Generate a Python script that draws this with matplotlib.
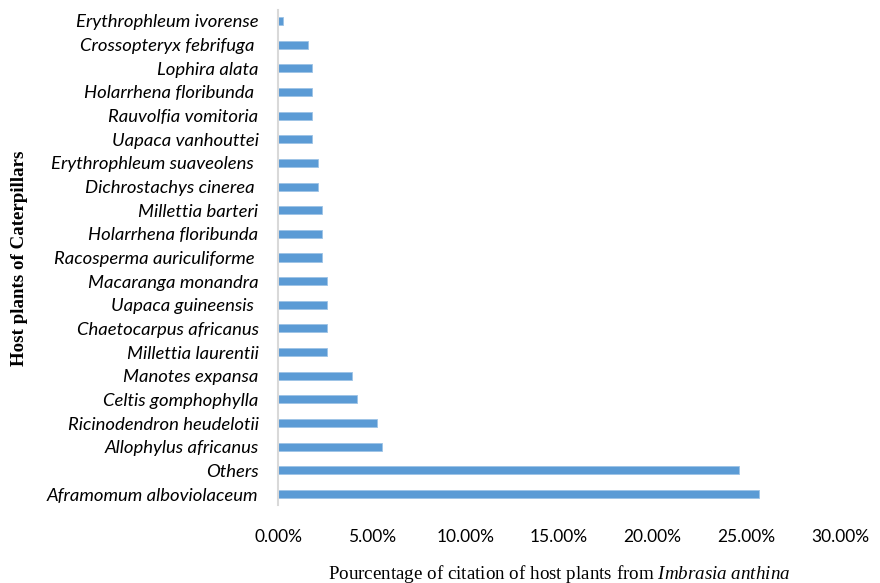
import matplotlib
matplotlib.use("Agg")
import matplotlib.pyplot as plt
from matplotlib.ticker import FuncFormatter

plt.rcParams['mathtext.fontset'] = 'custom'
plt.rcParams['mathtext.rm'] = 'Liberation Serif'
plt.rcParams['mathtext.it'] = 'Liberation Serif:italic'

# top to bottom as shown
plants = [
    "Erythrophleum ivorense", "Crossopteryx febrifuga ", "Lophira alata",
    "Holarrhena floribunda ", "Rauvolfia vomitoria", "Uapaca vanhouttei",
    "Erythrophleum suaveolens ", "Dichrostachys cinerea ", "Millettia barteri",
    "Holarrhena floribunda", "Racosperma auriculiforme ", "Macaranga monandra",
    "Uapaca guineensis ", "Chaetocarpus africanus", "Millettia laurentii",
    "Manotes expansa", "Celtis gomphophylla", "Ricinodendron heudelotii",
    "Allophylus africanus", "Others", "Aframomum alboviolaceum",
]
percent = [
    0.26, 1.58, 1.84,
    1.84, 1.84, 1.84,
    2.11, 2.11, 2.37,
    2.37, 2.37, 2.63,
    2.63, 2.63, 2.63,
    3.95, 4.21, 5.26,
    5.53, 24.63, 25.66,
]
xticks = [0, 5, 10, 15, 20, 25, 30]

fig = plt.figure(figsize=(8.8, 5.83), dpi=100)
ax = fig.add_axes([278/880, 1-505/583, (840-278)/880, (505-10)/583])

n = len(plants)
ypos = [n - 1 - i for i in range(n)]
ax.barh(ypos, percent, height=0.34, color='#5b9bd5', edgecolor='#9dc3e6', linewidth=0.6)

ax.set_xlim(0, 30)
ax.set_ylim(-0.465, n - 1 + 0.465)
ax.set_yticks(ypos)
ax.set_yticklabels(plants, fontfamily='Lato', fontstyle='italic', fontsize=13.3)
ax.set_xticks(xticks)
ax.xaxis.set_major_formatter(FuncFormatter(lambda v, p: f"{v:.2f}%"))
for lab in ax.get_xticklabels():
    lab.set_fontfamily('Lato')
    lab.set_fontsize(12.5)
ax.tick_params(axis='x', length=0, pad=17)
ax.tick_params(axis='y', length=0, pad=14)

for s in ['top', 'right', 'bottom']:
    ax.spines[s].set_visible(False)
ax.spines['left'].set_color('#d9d9d9')
ax.spines['left'].set_linewidth(1.5)

ax.set_xlabel(r"Pourcentage of citation of host plants from $\it{Imbrasia\ anthina}$",
              fontfamily='Liberation Serif', fontsize=13.7, labelpad=13)
fig.text(20/880, 1-258/583, "Host plants of Caterpillars", rotation=90,
         fontfamily='Liberation Serif', fontweight='bold', fontsize=13.6,
         ha='center', va='center')

fig.savefig("out.png", dpi=100)
